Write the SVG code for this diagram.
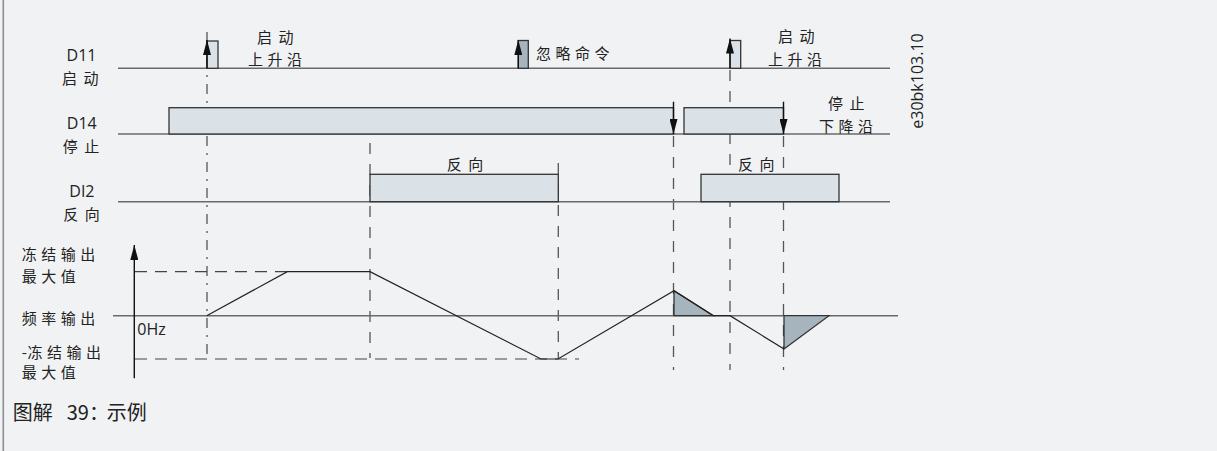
<svg xmlns="http://www.w3.org/2000/svg" width="1217" height="451" viewBox="0 0 1217 451">
<style>
.bg{fill:#f1f2f4}
.base{stroke:#6a6a6a;stroke-width:1.6;fill:none}
.box{fill:#dae1e7;stroke:#333;stroke-width:1.3}
.dark{fill:#a6b4bd;stroke:#333;stroke-width:1.3}
.dash{stroke:#555;stroke-width:1.3;stroke-dasharray:11 10;fill:none}
.dashh{stroke:#444;stroke-width:1.2;stroke-dasharray:12 8;fill:none}
.dd{stroke:#555;stroke-width:1.3;stroke-dasharray:10 7 2 7;fill:none}
.arr{stroke:#111;stroke-width:1.4;fill:none}
.wave{stroke:#222;stroke-width:1.2;fill:none}
.zh{font-family:"Noto Sans CJK SC",sans-serif;font-size:15px;fill:#222;letter-spacing:4.5px}
.zh2{font-family:"Noto Sans CJK SC",sans-serif;font-size:15px;fill:#222;letter-spacing:6.5px}
.lat{font-family:"Open Sans","Liberation Sans",sans-serif;font-size:16px;fill:#222}
</style>
<defs>
<marker id="head" markerWidth="15" markerHeight="8" refX="15" refY="4" orient="auto" markerUnits="userSpaceOnUse">
<path d="M0,0 L15,4 L0,8 Z" fill="#111"/>
</marker>
</defs>
<rect class="bg" x="0" y="0" width="1217" height="451"/>
<line x1="3.3" y1="0" x2="3.3" y2="451" stroke="#8e8e8e" stroke-width="1.6"/>

<g id="guides">
<line class="dd" x1="207" y1="32" x2="207" y2="358"/>
<line class="dash" x1="370" y1="143" x2="370" y2="358"/>
<line class="dash" x1="558.3" y1="163" x2="558.3" y2="358"/>
<line class="dash" x1="673.5" y1="136" x2="673.5" y2="370"/>
<line class="dash" x1="730" y1="70" x2="730" y2="370"/>
<line class="dash" x1="783.5" y1="136" x2="783.5" y2="370"/>
</g>

<g id="DI1">
<line class="base" x1="118" y1="68.3" x2="890" y2="68.3"/>
<rect class="box" x="207" y="41" width="11" height="27.3"/>
<rect class="dark" x="518.3" y="40.5" width="10" height="27.8"/>
<rect class="box" x="730" y="40.5" width="10.7" height="27.8"/>
<text class="lat" x="96.5" y="60.8" text-anchor="end">D11</text>
<text class="zh2" x="62" y="84.3">启动</text>
<text class="zh2" x="257" y="43.3">启动</text>
<text class="zh" x="248" y="65.3">上升沿</text>
<text class="zh" x="536" y="58.6">忽略命令</text>
<text class="zh2" x="778" y="42">启动</text>
<text class="zh" x="768" y="65.3">上升沿</text>
</g>

<g id="DI4">
<line class="base" x1="118" y1="134" x2="890" y2="134"/>
<rect class="box" x="169" y="107.7" width="504.5" height="26.3"/>
<rect class="box" x="684" y="107.7" width="99.5" height="26.3"/>
<text class="lat" x="96.7" y="129" text-anchor="end">D14</text>
<text class="zh2" x="62.7" y="152">停止</text>
<text class="zh2" x="828" y="109.3">停止</text>
<text class="zh" x="819" y="132">下降沿</text>
</g>

<g id="DI2">
<line class="base" x1="118" y1="201.7" x2="890" y2="201.7"/>
<rect class="box" x="370" y="174.3" width="188.3" height="27.4"/>
<rect class="box" x="701" y="174.3" width="138" height="27.4"/>
<text class="lat" x="94.5" y="197.4" text-anchor="end">DI2</text>
<text class="zh2" x="63.3" y="220.3">反向</text>
<text class="zh2" x="446.7" y="170.3">反向</text>
<text class="zh2" x="738" y="170.3">反向</text>
</g>

<g id="arrows">
<line class="arr" x1="207" y1="68.3" x2="207" y2="40" marker-end="url(#head)"/>
<line class="arr" x1="518.3" y1="68.3" x2="518.3" y2="40" marker-end="url(#head)"/>
<line class="arr" x1="730" y1="68.3" x2="730" y2="38.5" marker-end="url(#head)"/>
<line class="arr" x1="673.5" y1="101.7" x2="673.5" y2="134" marker-end="url(#head)"/>
<line class="arr" x1="783.5" y1="101.7" x2="783.5" y2="134" marker-end="url(#head)"/>
</g>

<g id="freq">
<line class="dashh" x1="135" y1="271.7" x2="287" y2="271.7"/>
<line class="dashh" x1="135" y1="359" x2="579" y2="359"/>
<line class="base" x1="113" y1="315.7" x2="898" y2="315.7"/>
<line class="arr" x1="134.3" y1="378.3" x2="134.3" y2="245" marker-end="url(#head)"/>
<polygon class="dark" points="674,290.7 674,315.7 713.3,315.7"/>
<polygon class="dark" points="784,315.7 784,349 829,315.7"/>
<polyline class="wave" points="206.7,315.7 287.3,271.7 370,271.7 541,359 558,359 674,290.7 713.3,315.7 730,315.7 784,349"/>
<text class="zh" x="21.7" y="260.3">冻结输出</text>
<text class="zh" x="21.7" y="282">最大值</text>
<text class="zh" x="21.7" y="323.6">频率输出</text>
<text class="zh" y="358"><tspan x="21.7" style="letter-spacing:0">-</tspan><tspan x="27.5">冻结输出</tspan></text>
<text class="zh" x="21.7" y="378">最大值</text>
<text class="lat" x="137.3" y="335">0Hz</text>
</g>

<g id="caption">
<text y="419.5" font-family="Noto Sans CJK SC, sans-serif" font-size="20" fill="#222"><tspan x="12.7">图解</tspan><tspan x="66.7">39：</tspan><tspan x="106.7">示例</tspan></text>
<text class="lat" transform="translate(922.5,81) rotate(-90)" text-anchor="middle">e30bk103.10</text>
</g>
</svg>
